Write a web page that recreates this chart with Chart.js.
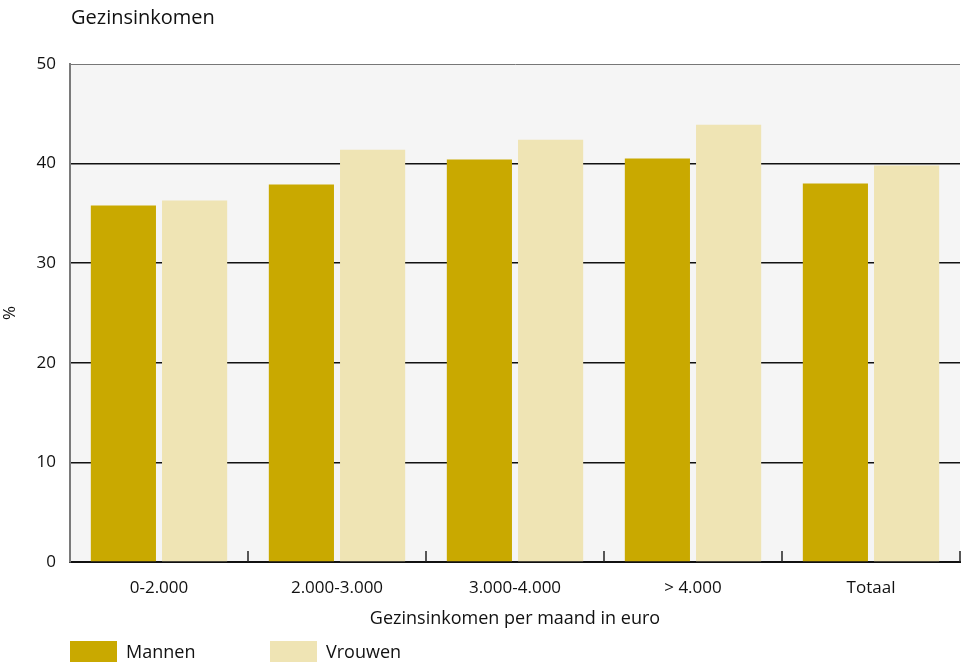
<!DOCTYPE html>
<html>
<head>
<meta charset="utf-8">
<script src="https://cdn.jsdelivr.net/npm/chart.js@4"></script>
<style>
  body { margin: 0; background: #fff; font-family: "Open Sans", sans-serif; }
  #wrap { position: relative; width: 961px; height: 662px; }
  #title { position: absolute; left: 71px; top: 3px; font-size: 20px; color: #111; }
  #legend { position: absolute; left: 70px; top: 641px; height: 21px; }
  .item { position: absolute; top: 0; white-space: nowrap; font-size: 18px; color: #111; }
  .box { display: inline-block; width: 47px; height: 21px; vertical-align: top; }
  .lbl { display: inline-block; margin-left: 9px; line-height: 21px; vertical-align: top; }
</style>
</head>
<body>
<div id="wrap">
  <canvas id="chart" width="961" height="662"></canvas>
  <div id="title">Gezinsinkomen</div>
  <div id="legend"></div>
</div>
<script>
// categories and series
const categories = ['0-2.000', '2.000-3.000', '3.000-4.000', '> 4.000', 'Totaal'];
const mannen = [35.8, 37.9, 40.4, 40.5, 38.0];
const vrouwen = [36.3, 41.4, 42.4, 43.9, 39.8];
const yTicks = [0, 10, 20, 30, 40, 50];

const colors = { mannen: '#c9a900', vrouwen: '#efe4b4' };

// grey plot background
const plotBackground = {
    id: 'plotBackground',
    beforeDraw(chart) {
        const { ctx, chartArea: a } = chart;
        ctx.save();
        ctx.fillStyle = '#f5f5f5';
        ctx.fillRect(a.left, a.top, a.right - a.left, a.bottom - a.top);
        ctx.restore();
    }
};

// short tick marks between categories, pointing up from the axis
const categoryTicks = {
    id: 'categoryTicks',
    afterDatasetsDraw(chart) {
        const { ctx, chartArea: a } = chart;
        const x = chart.scales.x;
        const half = (x.getPixelForValue(1) - x.getPixelForValue(0)) / 2;
        ctx.save();
        ctx.strokeStyle = '#222';
        ctx.lineWidth = 1.5;
        for (let i = 0; i < categories.length; i++) {
            const px = Math.round(x.getPixelForValue(i) + half);
            ctx.beginPath();
            ctx.moveTo(px, a.bottom);
            ctx.lineTo(px, a.bottom - 11);
            ctx.stroke();
        }
        ctx.restore();
    }
};

const ctx = document.getElementById('chart').getContext('2d');
const chart = new Chart(ctx, {
    type: 'bar',
    data: {
        labels: categories,
        datasets: [
            { label: 'Mannen', data: mannen, backgroundColor: colors.mannen },
            { label: 'Vrouwen', data: vrouwen, backgroundColor: colors.vrouwen }
        ]
    },
    options: {
        responsive: false,
        animation: false,
        categoryPercentage: 0.8,
        barPercentage: 0.915,
        layout: { padding: { top: 64, right: 1, bottom: 32, left: 0 } },
        plugins: {
            legend: { display: false },
            tooltip: { enabled: false }
        },
        scales: {
            x: {
                grid: { display: false },
                border: { color: '#111', width: 2 },
                ticks: {
                    color: '#111',
                    padding: 8,
                    font: { family: 'Open Sans', size: 17 }
                },
                title: {
                    display: true,
                    text: 'Gezinsinkomen per maand in euro',
                    color: '#111',
                    padding: { top: 0, bottom: 0 },
                    font: { family: 'Open Sans', size: 18 }
                },
                afterFit(scale) { scale.height = 68; }
            },
            y: {
                min: 0,
                max: 50,
                afterBuildTicks(scale) { scale.ticks = yTicks.map(v => ({ value: v })); },
                grid: {
                    drawTicks: false,
                    color: c => c.tick.value === 0 ? 'rgba(0,0,0,0)' : (c.tick.value === 50 ? '#777' : '#111'),
                    lineWidth: c => c.tick.value === 50 ? 1 : 1.5
                },
                border: { color: '#7a7a7a', width: 2 },
                ticks: {
                    color: '#111',
                    padding: 14,
                    font: { family: 'Open Sans', size: 17 }
                },
                title: {
                    display: true,
                    text: '%',
                    color: '#111',
                    padding: { top: 0, bottom: 2 },
                    font: { family: 'Open Sans', size: 17 }
                },
                afterFit(scale) { scale.width = 70; }
            }
        }
    },
    plugins: [plotBackground, categoryTicks]
});

// html legend built from the datasets
const legend = document.getElementById('legend');
chart.data.datasets.forEach((ds, i) => {
    const item = document.createElement('div');
    item.className = 'item';
    item.style.left = (i * 200) + 'px';
    item.innerHTML = '<span class="box" style="background:' + ds.backgroundColor + '"></span><span class="lbl">' + ds.label + '</span>';
    legend.appendChild(item);
});
</script>
</body>
</html>
